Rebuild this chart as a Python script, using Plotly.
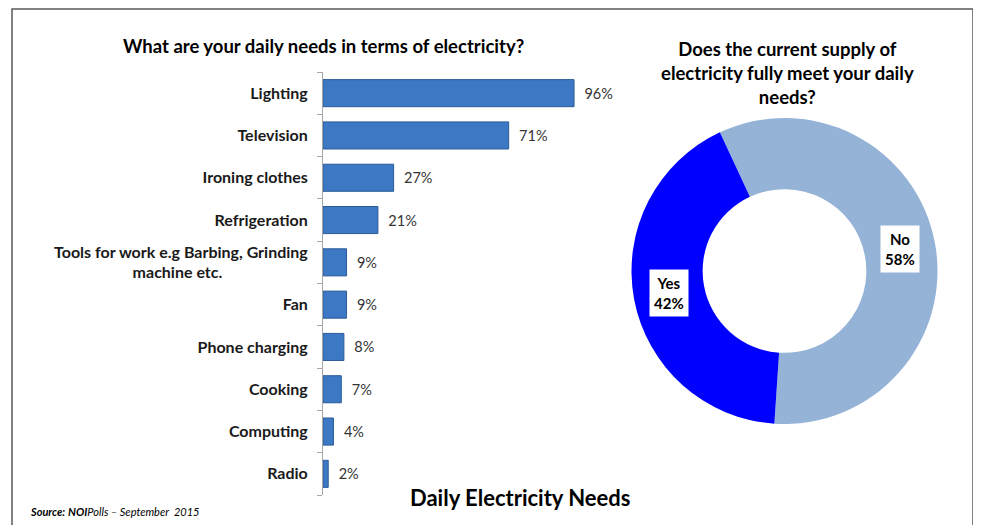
import math
import plotly.graph_objects as go

# ---------------- data ----------------
needs_categories = [
    "Lighting",
    "Television",
    "Ironing clothes",
    "Refrigeration",
    "Tools for work e.g Barbing, Grinding<br>machine etc.",
    "Fan",
    "Phone charging",
    "Cooking",
    "Computing",
    "Radio",
]
needs_values = [96, 71, 27, 21, 9, 9, 8, 7, 4, 2]

supply_labels = ["No", "Yes"]
supply_values = [58, 42]
supply_colors = ["#95B3D7", "#0000FF"]

# page has an 8px body margin: figure sized so it fits the 981x525 window
OFF = 8
W, H = 981 - OFF, 525 - OFF
FONT = "Lato, 'Open Sans', Arial, sans-serif"


def sx(x):  # screen x -> paper fraction
    return (x - OFF) / W


def sy(y):  # screen y -> paper fraction
    return 1 - (y - OFF) / H


def centered_tick(label):
    # multi-line tick labels are right-aligned; pad the short lines so they look centred
    lines = label.split("<br>")
    if len(lines) == 1:
        return f"<b>{label}</b>"
    longest = max(len(l) for l in lines)
    out = []
    for l in lines:
        pad = int(round((longest - len(l)) * 0.92))
        out.append(l + "\u00a0" * pad)
    return "<b>" + "<br>".join(out) + "</b>"


fig = go.Figure()

# ---------------- bar chart ----------------
fig.add_trace(go.Bar(
    y=needs_categories,
    x=needs_values,
    orientation="h",
    marker=dict(color="#3C78C3", line=dict(color="#2B5C99", width=1)),
    text=[f"\u00a0\u00a0{v}%" for v in needs_values],
    textposition="outside",
    cliponaxis=False,
    textfont=dict(family=FONT, size=14.5, color="#333333"),
    xaxis="x", yaxis="y",
    hoverinfo="x+y",
))

# ---------------- donut ----------------
cx_s, cy_s, R_px = 784.5, 271.0, 153.0
hole = 0.535
rotation = -25
fig.add_trace(go.Pie(
    labels=supply_labels,
    values=supply_values,
    marker=dict(colors=supply_colors),
    hole=hole,
    sort=False,
    direction="clockwise",
    rotation=rotation,
    textinfo="none",
    showlegend=False,
    domain=dict(x=[sx(cx_s - R_px), sx(cx_s + R_px)],
                y=[sy(cy_s + R_px), sy(cy_s - R_px)]),
))

# label boxes on donut slices, positioned from the slice values
annotations = []
total = sum(supply_values)
start = rotation
r_mid = R_px * (1 + hole) / 2
for lab, val in zip(supply_labels, supply_values):
    span = 360 * val / total
    mid = math.radians(start + span / 2)
    px = cx_s + r_mid * math.sin(mid)
    py = cy_s - r_mid * math.cos(mid)
    annotations.append(dict(
        x=sx(px), y=sy(py), xref="paper", yref="paper",
        xanchor="center", yanchor="middle",
        text=f"<b>{lab}<br>{round(100 * val / total)}%</b>",
        showarrow=False, bgcolor="white", borderpad=4,
        font=dict(family=FONT, size=15, color="black"),
    ))
    start += span

# titles
annotations += [
    dict(x=sx(323), y=sy(46), xref="paper", yref="paper",
         xanchor="center", yanchor="middle",
         text="<b>What are your daily needs in terms of electricity?</b>",
         showarrow=False, font=dict(family=FONT, size=18.5, color="black")),
    dict(x=sx(787), y=sy(73), xref="paper", yref="paper",
         xanchor="center", yanchor="middle",
         text="<b>Does the current supply of<br>electricity fully meet your daily<br>needs?</b>",
         showarrow=False, font=dict(family=FONT, size=18.5, color="black"),
         align="center"),
    dict(x=sx(520), y=sy(497), xref="paper", yref="paper",
         xanchor="center", yanchor="middle",
         text="<b>Daily Electricity Needs</b>",
         showarrow=False, font=dict(family=FONT, size=22, color="black")),
    dict(x=sx(28), y=sy(511), xref="paper", yref="paper",
         xanchor="left", yanchor="middle",
         text="<b><i>Source:</i></b> <b><i>NOI</i></b><i>Polls – September  2015</i>",
         showarrow=False, font=dict(family=FONT, size=11, color="black")),
]

fig.update_layout(
    width=W, height=H,
    margin=dict(l=0, r=0, t=0, b=0),
    paper_bgcolor="white", plot_bgcolor="white",
    showlegend=False,
    bargap=0.36,
    xaxis=dict(domain=[sx(323), sx(584.5)], range=[0, 100],
               visible=False, fixedrange=True),
    yaxis=dict(domain=[sy(495), sy(72)], autorange="reversed",
               showline=True, linecolor="#A6A6A6", linewidth=1,
               ticks="outside", tickson="boundaries", ticklen=5,
               tickcolor="#A6A6A6", ticklabelstandoff=11,
               tickfont=dict(family=FONT, size=16, color="#1A1A1A"),
               showgrid=False, zeroline=False, fixedrange=True),
    annotations=annotations,
    shapes=[dict(type="rect", xref="paper", yref="paper",
                 x0=sx(12), x1=sx(973), y0=-0.05, y1=sy(9),
                 line=dict(color="#5A5A5A", width=1.5))],
    font=dict(family=FONT),
)

# bold tick labels
fig.update_yaxes(ticktext=[centered_tick(c) for c in needs_categories],
                 tickvals=needs_categories, tickmode="array")

fig.write_html("out.html")
